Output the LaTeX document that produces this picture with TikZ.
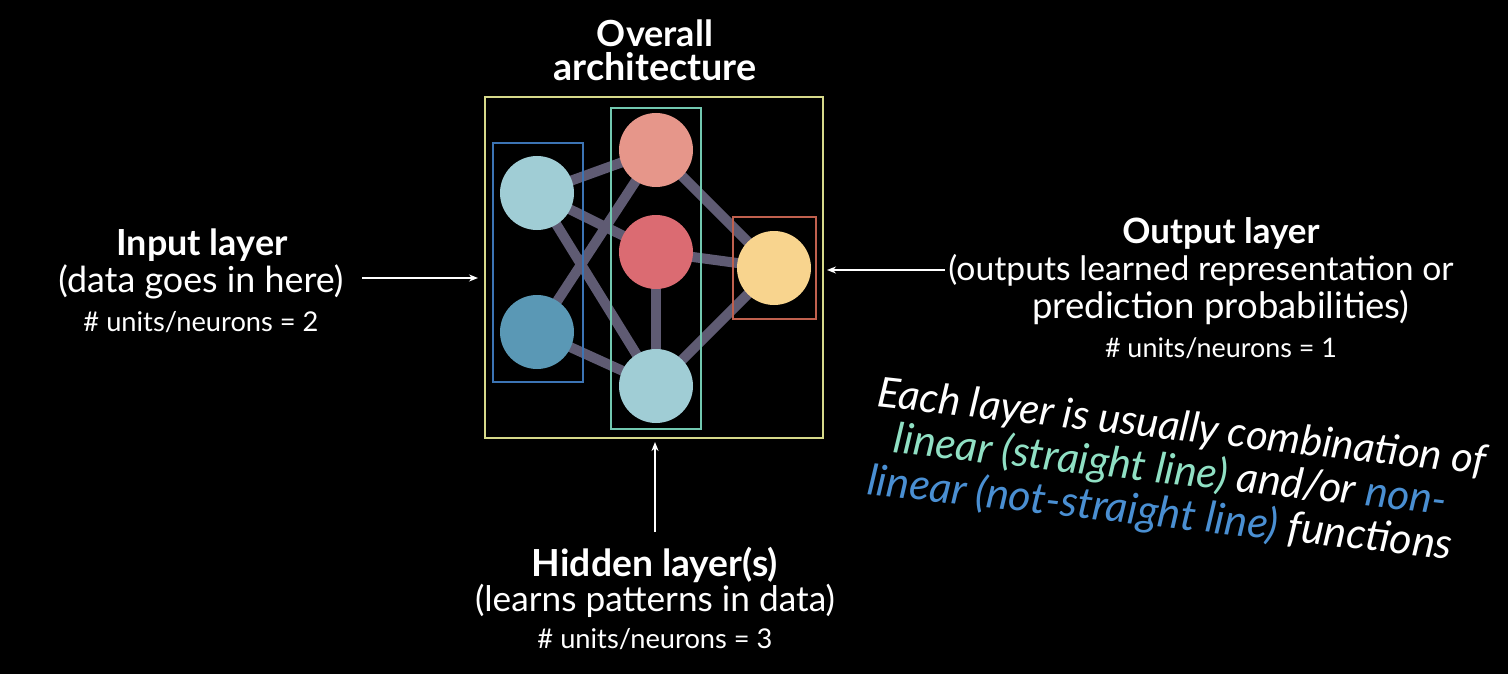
\documentclass[tikz,border=0pt]{standalone}
\usepackage{fontspec}
\usepackage{graphicx}
\setmainfont{Lato}
\usetikzlibrary{arrows.meta}
\definecolor{edgec}{HTML}{5F5B73}
\definecolor{cI}{HTML}{A0CDD5}
\definecolor{cII}{HTML}{5A98B5}
\definecolor{cHa}{HTML}{E6968A}
\definecolor{cHb}{HTML}{DB6B72}
\definecolor{cO}{HTML}{F8D48E}
\definecolor{boxY}{HTML}{D6D98A}
\definecolor{boxB}{HTML}{3C74B4}
\definecolor{boxG}{HTML}{72C8B0}
\definecolor{boxR}{HTML}{C0604E}
\definecolor{hgreen}{HTML}{90E0C4}
\definecolor{hblue}{HTML}{4A8FD2}
\tikzset{
  neuron/.style={circle,minimum size=74pt,inner sep=0pt,draw=none},
  conn/.style={draw=edgec,line width=10pt},
  layerbox/.style={line width=1.8pt},
  ptr/.style={draw=white,line width=1.6pt,-{Stealth[length=9pt,width=7pt]}},
  txt/.style={text=white,inner sep=0pt,anchor=center},
  hand/.style={text=white,inner sep=0pt,anchor=base west,rotate=-6.4,align=left,
    font=\itshape\fontsize{30}{44}\selectfont}
}
\begin{document}
\begin{tikzpicture}[x=1pt,y=-1pt]
\fill[black] (0,0) rectangle (1508,674);
\useasboundingbox (0,0) rectangle (1508,674);
% neurons (coordinates)
\node[neuron] (i1) at (537,193) {};
\node[neuron] (i2) at (537,332) {};
\node[neuron] (h1) at (656,150) {};
\node[neuron] (h2) at (656,252) {};
\node[neuron] (h3) at (656,386) {};
\node[neuron] (o) at (774,268) {};
% connections
\foreach \a/\b in {i1/h1,i1/h2,i1/h3,i2/h1,i2/h3,h2/h3,h1/o,h2/o,h3/o}
  \draw[conn] (\a.center) -- (\b.center);
% boxes
\node[draw=boxY,layerbox,minimum width=338pt,minimum height=341pt,inner sep=0pt] (outer) at (654,267.5) {};
\node[draw=boxB,layerbox,minimum width=90pt,minimum height=239pt,inner sep=0pt] (bbox) at (538,262.5) {};
\node[draw=boxG,layerbox,minimum width=90pt,minimum height=321pt,inner sep=0pt] (gbox) at (656,268.5) {};
\node[draw=boxR,layerbox,minimum width=83pt,minimum height=102pt,inner sep=0pt] (rbox) at (774.5,268) {};
% neuron fills
\fill[cI] (i1) circle (37);
\fill[cII] (i2) circle (37);
\fill[cHa] (h1) circle (37);
\fill[cHb] (h2) circle (37);
\fill[cI] (h3) circle (37);
\fill[cO] (o) circle (37);
% titles
\node[txt] (t1) at (655,33) {\resizebox{116pt}{!}{\bfseries Overall}};
\node[txt] (t2) at (655,67) {\resizebox{203pt}{!}{\bfseries architecture}};
% input
\node[txt] (in1) at (202,245) {\resizebox{171pt}{!}{\bfseries Input layer}};
\node[txt] (in2) at (201,282) {\resizebox{285pt}{!}{(data goes in here)}};
\node[txt] (in3) at (201,322) {\resizebox{235pt}{!}{\# units/neurons = 2}};
\coordinate (ina) at (362,278);
\coordinate (inb) at (478,278);
\draw[ptr] (ina) -- (inb);
% output
\node[txt] (ou1) at (1221,233) {\resizebox{197pt}{!}{\bfseries Output layer}};
\node[txt] (ou2) at (1201,270) {\resizebox{505pt}{!}{(outputs learned representation or}};
\node[txt] (ou3) at (1221,307) {\resizebox{377pt}{!}{prediction probabilities)}};
\node[txt] (ou4) at (1221,348) {\resizebox{232pt}{!}{\# units/neurons = 1}};
\coordinate (oua) at (945,270);
\coordinate (oub) at (827,270);
\draw[ptr] (oua) -- (oub);
% hidden
\coordinate (hia) at (655,532);
\coordinate (hib) at (655,442);
\draw[ptr] (hia) -- (hib);
\node[txt] (hi1) at (655,565) {\resizebox{246pt}{!}{\bfseries Hidden layer(s)}};
\node[txt] (hi2) at (655,601) {\resizebox{360pt}{!}{(learns patterns in data)}};
\node[txt] (hi3) at (655,639) {\resizebox{235pt}{!}{\# units/neurons = 3}};
% handwriting
\node[hand] (w) at (866,494) {\resizebox{612pt}{!}{Each layer is usually combination of}\\
\hspace*{22pt}\resizebox{556pt}{!}{\textcolor{hgreen}{linear (straight line)} and/or \textcolor{hblue}{non-}}\\
\resizebox{588pt}{!}{\textcolor{hblue}{linear (not-straight line)} functions}};
\end{tikzpicture}
\end{document}
